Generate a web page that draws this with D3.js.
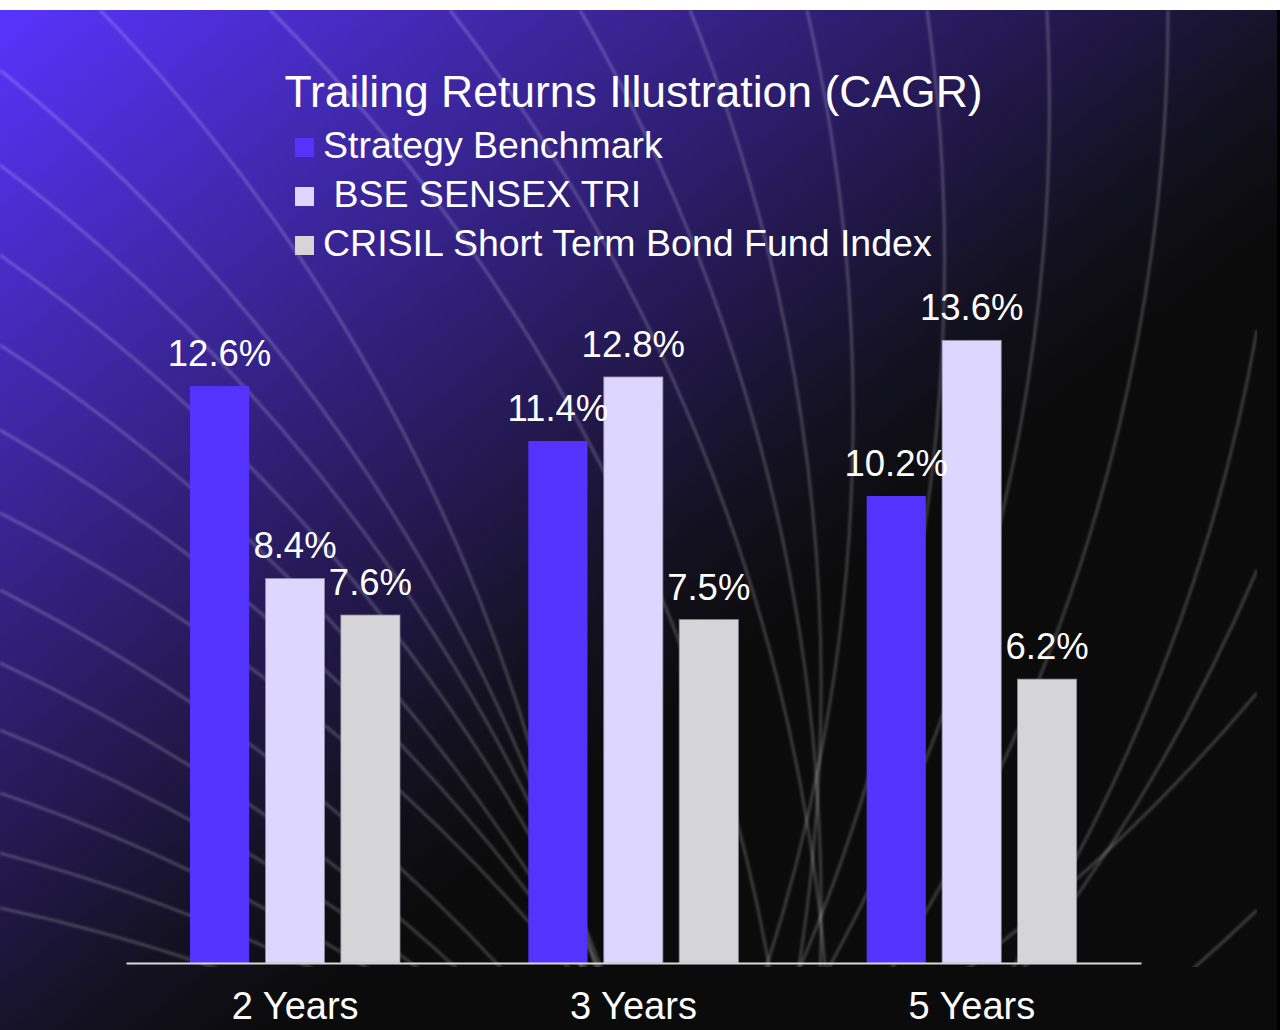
<!DOCTYPE html>
<html lang="en">
<head>
<meta charset="UTF-8" />
<title>Trailing Returns Illustration (CAGR)</title>
<style>
  body { margin: 0; background: #000; }
  svg { display: block; }
  text { font-family: "Liberation Sans", Arial, sans-serif; fill: #fff; }
</style>
</head>
<body>
<div id="chart"></div>
<script src="https://cdn.jsdelivr.net/npm/d3@7/dist/d3.min.js"></script>
<script>
// chart data
var categories = ["2 Years", "3 Years", "5 Years"];
var seriesNames = ["Strategy Benchmark", " BSE SENSEX TRI", "CRISIL Short Term Bond Fund Index"];
var strategyBenchmark = [12.6, 11.4, 10.2];
var bseSensexTri = [8.4, 12.8, 13.6];
var crisilBondIndex = [7.6, 7.5, 6.2];
var seriesColors = ["#5533ff", "#ddd6ff", "#d5d5d7"];

var w = 1280, h = 1030;
var left = 126, right = 1141, base = 963;

var data = categories.map(function(c, i) {
  return { category: c, values: [strategyBenchmark[i], bseSensexTri[i], crisilBondIndex[i]] };
});

var svg = d3.select("#chart").append("svg")
  .attr("width", w)
  .attr("height", h);

var defs = svg.append("defs");

// slide background
var grad = defs.append("linearGradient")
  .attr("id", "bg")
  .attr("gradientUnits", "userSpaceOnUse")
  .attr("x1", 0).attr("y1", 0)
  .attr("x2", 610).attr("y2", 762);
[[0, "#5735ff"], [0.4, "#3a2597"], [0.7, "#22184c"], [0.86, "#141222"], [1, "#0b0b0b"]].forEach(function(s) {
  grad.append("stop").attr("offset", s[0]).attr("stop-color", s[1]);
});

defs.append("clipPath").attr("id", "deco")
  .append("rect").attr("x", 0).attr("y", 10).attr("width", 1257).attr("height", 957);

defs.append("filter").attr("id", "soft")
  .append("feGaussianBlur").attr("stdDeviation", 0.8);

svg.append("rect").attr("width", w).attr("height", h).attr("fill", "#000");
svg.append("rect").attr("width", w).attr("height", 10).attr("fill", "#fff");
svg.append("rect").attr("x", 0).attr("y", 10).attr("width", 1277).attr("height", h - 10).attr("fill", "url(#bg)");

// swirl lines of the template (start point, start angle)
var swirls = [
  [0, 70, 39], [0, 165, 37], [0, 255, 35], [0, 345, 33], [0, 430, 30], [0, 513, 27],
  [0, 590, 27], [0, 663, 25], [0, 730, 22], [0, 793, 19], [0, 853, 15], [0, 908, 12],
  [100, 10, 46], [270, 10, 45], [450, 10, 52], [580, 10, 60], [690, 10, 68],
  [807, 10, 77], [927, 10, 82], [1047, 10, 87], [1168, 10, 90],
  [1257, 330, 100], [1257, 570, 113], [1257, 693, 130], [1257, 910, 136]
];
var R = 1800, sweep = 55 * Math.PI / 180;
svg.append("g")
  .attr("clip-path", "url(#deco)")
  .attr("filter", "url(#soft)")
  .selectAll("path")
  .data(swirls)
  .enter().append("path")
  .attr("fill", "none")
  .attr("stroke", "#ffffff")
  .attr("stroke-opacity", 0.19)
  .attr("stroke-width", 3.2)
  .attr("d", function(d) {
    var a = d[2] * Math.PI / 180;
    var cx = d[0] - R * Math.sin(a), cy = d[1] + R * Math.cos(a);
    var ex = cx + R * Math.sin(a + sweep), ey = cy - R * Math.cos(a + sweep);
    return "M" + d[0] + "," + d[1] + " A" + R + "," + R + " 0 0 1 " + ex + "," + ey;
  });

// scales
var x0 = d3.scaleBand().domain(categories).range([left, right]);
var x1 = d3.scaleBand().domain(d3.range(seriesNames.length)).range([64, 274]).paddingInner(0.216);
var y = d3.scaleLinear().domain([0, 14]).range([base, 322]);

// bars
var groups = svg.selectAll("g.cat")
  .data(data)
  .enter().append("g")
  .attr("class", "cat")
  .attr("transform", function(d) { return "translate(" + x0(d.category) + ",0)"; });

groups.selectAll("rect")
  .data(function(d) { return d.values; })
  .enter().append("rect")
  .attr("x", function(d, i) { return x1(i); })
  .attr("y", function(d) { return y(d); })
  .attr("width", x1.bandwidth())
  .attr("height", function(d) { return base - y(d); })
  .attr("fill", function(d, i) { return seriesColors[i]; })
  .attr("stroke", function(d, i) { return i == 0 ? "none" : "#8d8a9e"; })
  .attr("stroke-width", 0.8);

groups.selectAll("text")
  .data(function(d) { return d.values; })
  .enter().append("text")
  .attr("x", function(d, i) { return x1(i) + x1.bandwidth() / 2; })
  .attr("y", function(d) { return y(d) - 20; })
  .attr("text-anchor", "middle")
  .style("font-size", "36.5px")
  .text(function(d) { return d3.format(".1f")(d) + "%"; });

// category axis
var xAxis = d3.axisBottom(x0).tickSize(0);
var ax = svg.append("g")
  .attr("transform", "translate(0," + base + ")")
  .call(xAxis);
ax.select(".domain").attr("stroke", "#d9d9d9").attr("stroke-width", 2);
ax.selectAll("text")
  .attr("y", 56)
  .attr("dy", 0)
  .attr("fill", "#fff")
  .style("font-size", "38px")
  .style("font-family", "'Liberation Sans', Arial, sans-serif");

// title
svg.append("text")
  .attr("x", (left + right) / 2)
  .attr("y", 107)
  .attr("text-anchor", "middle")
  .style("font-size", "44.5px")
  .text("Trailing Returns Illustration (CAGR)");

// legend
var legend = svg.selectAll("g.legend")
  .data(seriesNames)
  .enter().append("g")
  .attr("class", "legend")
  .attr("transform", function(d, i) { return "translate(295," + (158 + i * 49) + ")"; });

legend.append("rect")
  .attr("x", 0)
  .attr("y", -20)
  .attr("width", 19)
  .attr("height", 19)
  .attr("fill", function(d, i) { return seriesColors[i]; });

legend.append("text")
  .attr("x", 28)
  .attr("y", 0)
  .style("font-size", "37.5px")
  .style("white-space", "pre")
  .text(function(d) { return d; });
</script>
</body>
</html>
